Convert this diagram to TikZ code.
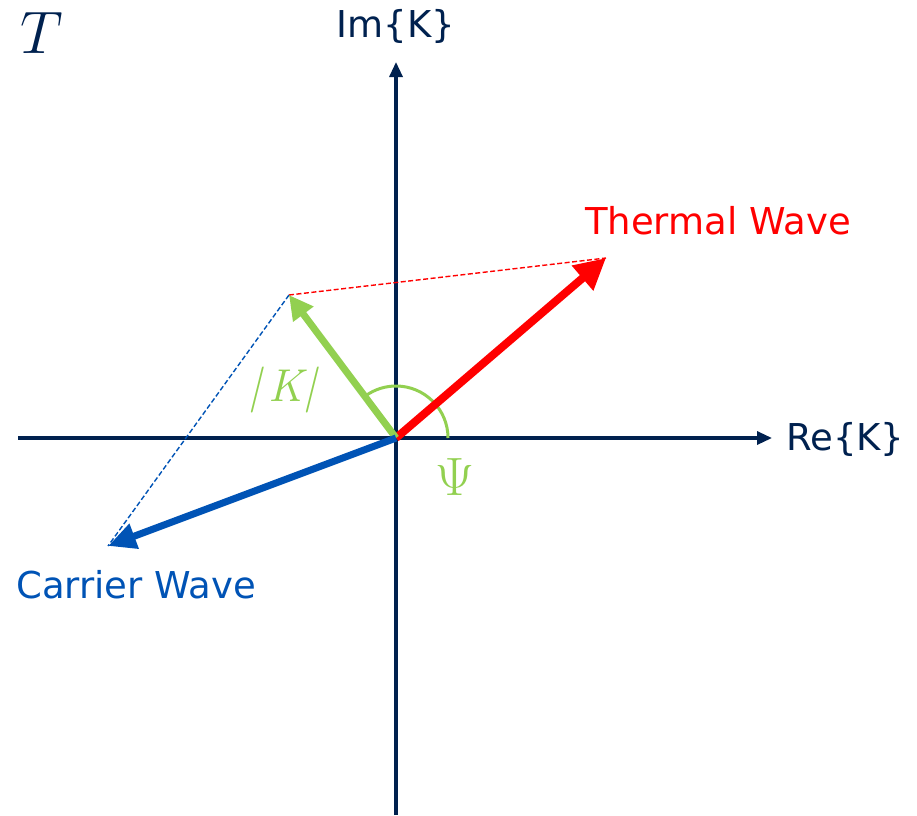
\RequirePackage{fix-cm}
\documentclass[tikz,border=0pt]{standalone}
\usepackage{fontspec}
\setmainfont{DejaVu Sans}
\newfontfamily\lmr{Latin Modern Roman}
\usetikzlibrary{arrows.meta,calc}
\definecolor{navy}{HTML}{00214F}
\definecolor{tred}{HTML}{FF0000}
\definecolor{tgreen}{HTML}{92D050}
\definecolor{tblue}{HTML}{0053B5}
\tikzset{
  axis/.style={navy, line width=3.2pt, -{Triangle[length=15pt,width=13pt]}},
  guide/.style={line width=1.4pt, dash pattern=on 5pt off 2.5pt},
  lbl/.style={font=\fontsize{37}{44}\selectfont, inner sep=0pt},
}
\begin{document}
\begin{tikzpicture}[x=1pt,y=-1pt]
\useasboundingbox (0,0) rectangle (917,815);
\coordinate (O) at (396,438);
\coordinate (xl) at (18,438);
\coordinate (xr) at (772,438);
\coordinate (yb) at (396,815);
\coordinate (yt) at (396,62);
\coordinate (Th) at (606,258);
\coordinate (Kk) at (289,295);
\coordinate (Ca) at (108,546);
\coordinate (A0) at (448,438);
% axes
\draw[axis] (xl) -- (xr);
\draw[axis] (yb) -- (yt);
% guides
\draw[guide, tred] (Kk) -- (Th);
\draw[guide, tblue] (Kk) -- (Ca);
% angle arc
\draw[tgreen, line width=3pt] (A0) arc[start angle=0, end angle=-125, radius=52];
% vectors
\draw[tred, line width=8pt, -{Triangle[length=31pt,width=31pt]}] (O) -- (Th);
\draw[tgreen, line width=7pt, -{Triangle[length=24pt,width=24pt]}] (O) -- (Kk);
\draw[tblue, line width=7pt, -{Triangle[length=28pt,width=25pt]}] (O) -- (Ca);
% labels
\node[lbl, navy, anchor=base] (T) at (42,53) {\fontsize{60}{62}\selectfont$T$};
\node[lbl, navy] (im) at (396,26) {Im\{K\}};
\node[lbl, navy, anchor=west] (re) at (786,439) {Re\{K\}};
\node[lbl, tred] (thw) at (718,221) {Thermal Wave};
\node[lbl, tblue, anchor=west] (caw) at (16,585) {Carrier Wave};
\node[lbl, tgreen] (k) at (282,390) {\fontsize{46}{50}\selectfont\lmr\itshape |\,K|};
\node[lbl, tgreen, anchor=base] (psi) at (455,495) {\fontsize{54}{58}\selectfont$\Psi$};
\end{tikzpicture}
\end{document}
